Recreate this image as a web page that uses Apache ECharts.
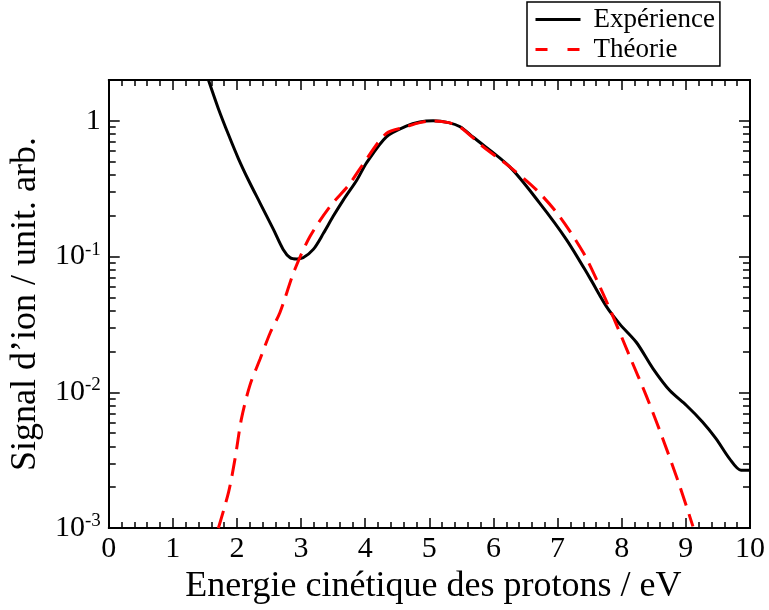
<!DOCTYPE html>
<html>
<head>
<meta charset="utf-8">
<script src="https://cdn.jsdelivr.net/npm/echarts@6/dist/echarts.min.js"></script>
<style>
html,body{margin:0;padding:0;background:#fff;}
#chart{width:769px;height:610px;}
</style>
</head>
<body>
<div id="chart"></div>
<script>
// Experimental curve (energy in eV, signal in arb. units)
const energyExp = [1.555, 1.71, 1.87, 2.02, 2.18, 2.36, 2.57, 2.72, 2.83, 2.93, 3.03, 3.19, 3.35, 3.50, 3.66, 3.87, 4.02, 4.33, 4.64, 4.85, 5.06, 5.30, 5.48, 5.68, 6.25, 6.72, 7.14, 7.50, 7.76, 7.97, 8.23, 8.49, 8.75, 9.01, 9.26, 9.47, 9.68, 9.86, 10.0];
const signalExp = [2.0, 1.23, 0.786, 0.53, 0.365, 0.248, 0.158, 0.113, 0.098, 0.096, 0.098, 0.113, 0.149, 0.198, 0.262, 0.367, 0.49, 0.763, 0.914, 0.98, 1.0, 0.97, 0.904, 0.76, 0.46, 0.248, 0.133, 0.07, 0.043, 0.0318, 0.0233, 0.0149, 0.0103, 0.008, 0.00605, 0.00456, 0.00325, 0.00267, 0.00267];
// Theoretical curve
const energyTh = [1.71, 1.87, 1.97, 2.07, 2.20, 2.36, 2.52, 2.67, 2.90, 3.14, 3.45, 3.74, 3.94, 4.33, 4.64, 4.85, 5.06, 5.30, 5.48, 5.84, 6.25, 6.67, 7.03, 7.40, 7.63, 7.86, 8.12, 8.38, 8.64, 8.90, 9.11];
const signalTh = [0.001, 0.00185, 0.00325, 0.0064, 0.0112, 0.0176, 0.0276, 0.0387, 0.080, 0.141, 0.234, 0.335, 0.46, 0.809, 0.904, 0.97, 1.0, 0.97, 0.9, 0.645, 0.46, 0.31, 0.198, 0.107, 0.0643, 0.0366, 0.0186, 0.0095, 0.00456, 0.00207, 0.00103];
// Axis ticks
const yMajor = [0.001, 0.01, 0.1, 1];
const yMinor = [0.002,0.003,0.004,0.005,0.006,0.007,0.008,0.009,0.02,0.03,0.04,0.05,0.06,0.07,0.08,0.09,0.2,0.3,0.4,0.5,0.6,0.7,0.8,0.9,2];
const labels = { names: ['Expérience', 'Théorie'], x: 'Energie cinétique des protons / eV', y: 'Signal d’ion / unit. arb.' };

const FONT = 'Liberation Serif';
const chart = echarts.init(document.getElementById('chart'), null, {renderer: 'canvas'});
const pair = (xs, ys) => xs.map((x, i) => [x, ys[i]]);

function yLabel(v) {
  const e = Math.round(Math.log10(v));
  if (Math.abs(v - Math.pow(10, e)) > 1e-6 * v) return '';
  if (e === 0) return '1';
  return '10{sup|' + e + '}';
}

const axisLine = {show: true, onZero: false, lineStyle: {color: '#000', width: 2}};
function xAxis(pos, showLabel) {
  return {
    type: 'value', position: pos, min: 0, max: 10, interval: 1,
    axisLine: axisLine,
    axisTick: {show: true, inside: true, length: 10, lineStyle: {color: '#000', width: 1.5}},
    minorTick: {show: true, splitNumber: 5, length: 6, lineStyle: {color: '#000', width: 1.5}},
    splitLine: {show: false}, minorSplitLine: {show: false},
    axisLabel: {show: showLabel, fontFamily: FONT, fontSize: 30, color: '#000', margin: 6},
    name: showLabel ? labels.x : '', nameLocation: 'middle', nameGap: 36,
    nameTextStyle: {fontFamily: FONT, fontSize: 36, color: '#000', padding: [0, 0, 0, 8]}
  };
}
function yAxis(pos, minor, showLabel) {
  return {
    type: 'log', logBase: 10, position: pos, min: 0.001, max: 2,
    axisLine: axisLine,
    axisTick: {show: true, inside: true, length: minor ? 7 : 11, lineStyle: {color: '#000', width: 1.5},
               customValues: minor ? yMinor : yMajor},
    splitLine: {show: false},
    axisLabel: {show: showLabel, fontFamily: FONT, fontSize: 30, color: '#000', margin: 8,
      customValues: yMajor,
      formatter: yLabel,
      rich: {sup: {fontFamily: FONT, fontSize: 19, color: '#000', padding: [0, 0, 14, 0]}}},
    name: showLabel ? labels.y : '', nameLocation: 'middle', nameGap: 62, nameRotate: 90,
    nameTextStyle: {fontFamily: FONT, fontSize: 36, color: '#000'}
  };
}

chart.setOption({
  animation: false,
  backgroundColor: '#fff',
  grid: {left: 108, right: 19, top: 80, bottom: 80, containLabel: false},
  legend: {
    orient: 'vertical', left: 527, top: 2,
    itemWidth: 45, itemHeight: 14, itemGap: 3,
    padding: [4, 5, 3, 7],
    borderColor: '#000', borderWidth: 1.5, borderRadius: 0,
    textStyle: {fontFamily: FONT, fontSize: 27, color: '#000', padding: [0, 0, 0, 8]},
    itemStyle: {opacity: 0},
    data: [
      {name: labels.names[0], itemStyle: {opacity: 0}, lineStyle: {color: '#000', width: 3, type: 'solid'}},
      {name: labels.names[1], itemStyle: {opacity: 0}, lineStyle: {color: '#ff0000', width: 3, type: [12, 20]}}
    ]
  },
  xAxis: [xAxis('bottom', true), xAxis('top', false)],
  yAxis: [yAxis('left', false, true), yAxis('left', true, false), yAxis('right', false, false), yAxis('right', true, false)],
  series: [
    {name: labels.names[0], type: 'line', data: pair(energyExp, signalExp), xAxisIndex: 0, yAxisIndex: 0,
     symbol: 'none', smooth: 0.3, clip: true, lineStyle: {color: '#000', width: 3}, itemStyle: {color: '#000'}},
    {name: labels.names[1], type: 'line', data: pair(energyTh, signalTh), xAxisIndex: 0, yAxisIndex: 0,
     symbol: 'none', smooth: 0.3, clip: true, lineStyle: {color: '#ff0000', width: 3, type: [18, 9]}, itemStyle: {color: '#ff0000'}}
  ]
});
</script>
</body>
</html>
